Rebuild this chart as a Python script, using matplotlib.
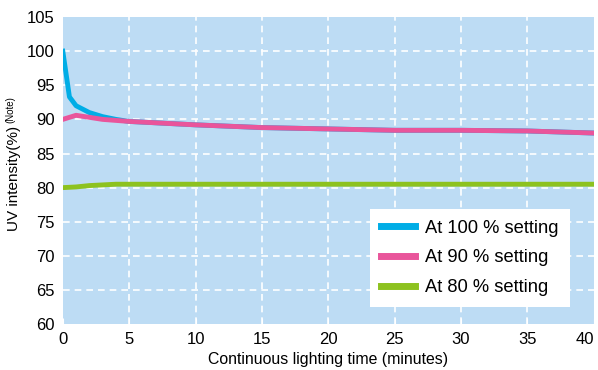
import matplotlib
matplotlib.use("Agg")
import matplotlib.pyplot as plt

plt.rcParams["font.family"] = ["Liberation Sans", "DejaVu Sans"]

# minutes
time_100 = [0, 0.5, 1, 2, 3, 4, 5, 7, 10, 15, 20, 25, 30, 35, 40]
uv_100 = [100, 93.3, 92.0, 91.0, 90.4, 90.0, 89.7, 89.5, 89.2, 88.8, 88.6, 88.4, 88.4, 88.3, 88.0]

time_90 = [0, 1, 2, 3, 5, 7, 10, 15, 20, 25, 30, 35, 40]
uv_90 = [90.0, 90.6, 90.3, 90.0, 89.7, 89.5, 89.2, 88.8, 88.6, 88.4, 88.4, 88.3, 88.0]

time_80 = [0, 1, 2, 3, 4, 5, 10, 20, 30, 40]
uv_80 = [80.0, 80.1, 80.3, 80.4, 80.5, 80.5, 80.5, 80.5, 80.5, 80.5]

labels = ["At 100 % setting", "At 90 % setting", "At 80 % setting"]
colors = ["#00ade6", "#e9559b", "#8dc21f"]

x_ticks = list(range(0, 41, 5))
y_ticks = list(range(60, 106, 5))

fig = plt.figure(figsize=(5.98, 3.70), dpi=100)
ax = fig.add_axes([0.105, 0.124, 0.888, 0.830])
ax.set_facecolor("#bddcf4")

# dashed white grid, only inside the plot area
for x in x_ticks[1:-1]:
    ax.axvline(x, color="white", ls=(0, (4, 3)), lw=1.2, zorder=1)
for y in y_ticks[1:-1]:
    ax.axhline(y, color="white", ls=(0, (4, 3)), lw=1.2, zorder=1)

ax.plot(time_100, uv_100, color=colors[0], lw=3.5, label=labels[0], zorder=3)
ax.plot(time_90, uv_90, color=colors[1], lw=3.5, label=labels[1], zorder=3)
ax.plot(time_80, uv_80, color=colors[2], lw=3.5, label=labels[2], zorder=3)

ax.set_xlim(0, 40)
ax.set_ylim(60, 105)
ax.set_xticks(x_ticks)
ax.set_yticks(y_ticks)
for s in ax.spines.values():
    s.set_visible(False)
ax.tick_params(axis="y", labelsize=12, length=0, pad=6)
ax.tick_params(axis="x", labelsize=12, direction="in", length=4, color="white", pad=6)
ax.get_xticklabels()[-1].set_ha("right")

ax.set_xlabel("Continuous lighting time (minutes)", fontsize=11.4, labelpad=3)
fig.text(0.024, 0.519, "UV intensity(%)", rotation=90, fontsize=11, ha="center", va="center")
fig.text(0.018, 0.703, "(Note)", rotation=90, fontsize=7, ha="center", va="center")

leg = ax.legend(loc="lower right", bbox_to_anchor=(0.955, 0.055), borderaxespad=0,
                fontsize=13.2, frameon=True, fancybox=False, framealpha=1,
                edgecolor="white", handlelength=1.9, labelspacing=0.7,
                borderpad=0.6, handletextpad=0.55)
leg.get_frame().set_linewidth(0)
for line in leg.get_lines():
    line.set_linewidth(5)

fig.savefig("out.png", dpi=100)
